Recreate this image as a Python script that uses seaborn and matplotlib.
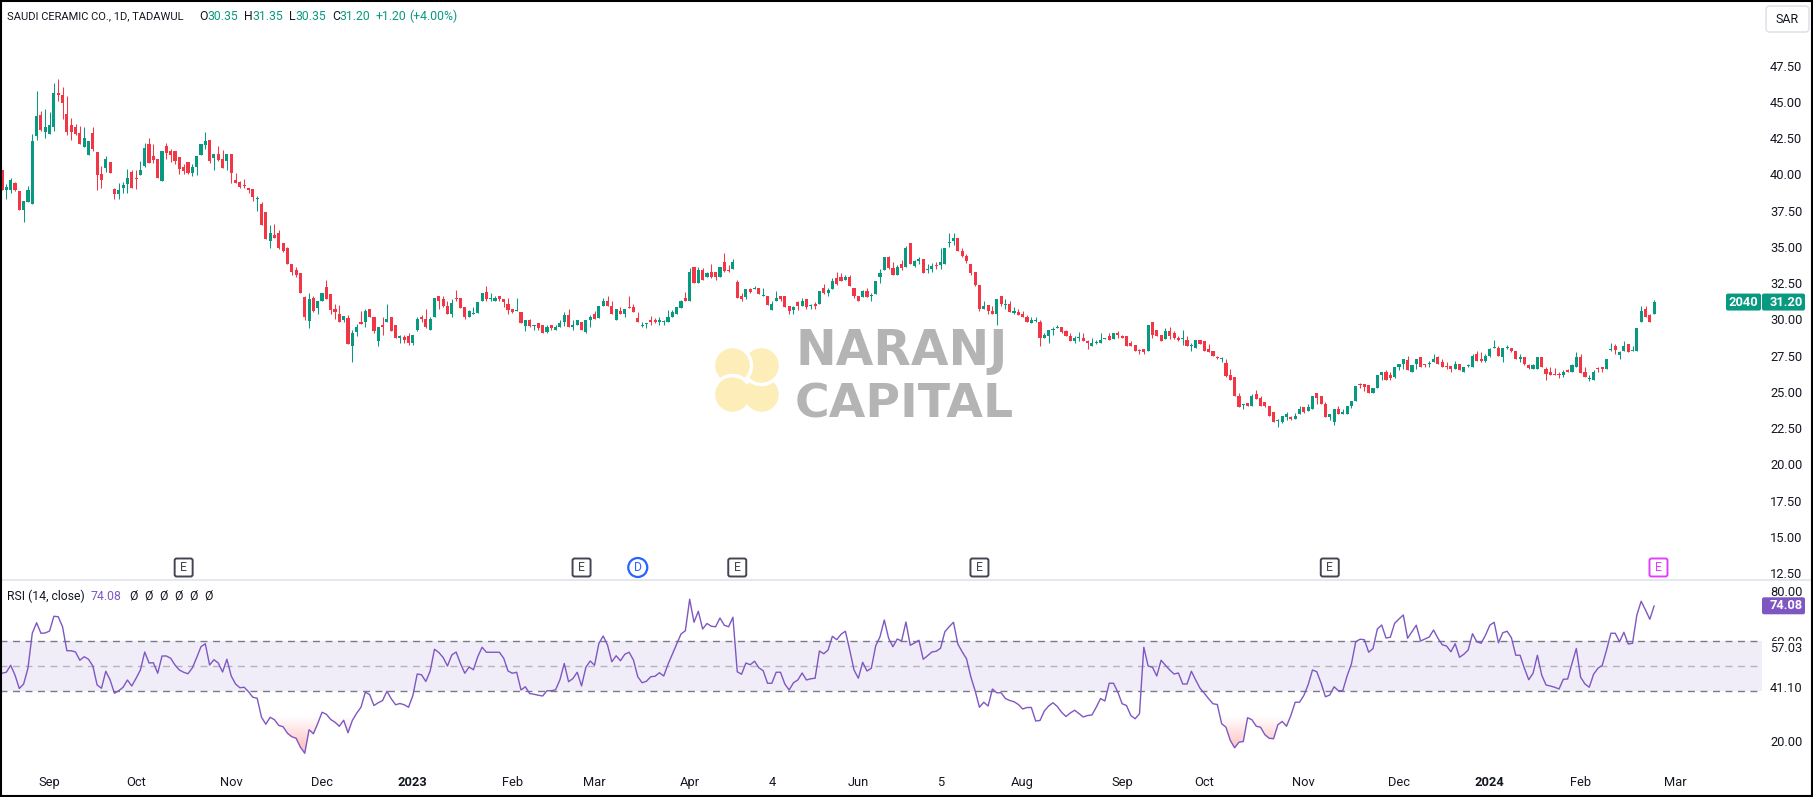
import numpy as np
import pandas as pd
import matplotlib
matplotlib.use('Agg')
import matplotlib.pyplot as plt
from matplotlib.patches import Circle, FancyBboxPatch, PathPatch, Rectangle
from matplotlib.path import Path
from matplotlib.transforms import IdentityTransform
import seaborn as sns

# Daily candles
opens = [
    40.29,38.91,38.91,39.4,38.85,37.53,38.08,37.97,42.65,44.1,
    42.9,42.8,43.25,45.6,45.45,44.15,43.4,43.25,42.85,41.9,
    41.35,42.85,41.55,40.05,40.45,40.85,39.0,38.65,39.05,39.35,
    40.2,39.75,39.95,40.55,42.1,41.25,41.05,39.55,41.95,41.65,
    41.65,41.2,40.5,40.85,40.1,40.5,41.35,42.0,42.35,41.15,
    41.4,41.05,40.9,41.4,39.6,39.45,39.25,39.05,39.0,38.3,
    37.95,37.4,35.4,35.8,35.95,35.25,34.9,33.8,33.4,33.2,
    31.55,29.9,31.45,30.8,31.3,32.25,31.75,30.7,30.4,29.95,
    30.1,28.15,29.15,29.85,29.85,30.75,30.15,28.5,29.65,29.85,
    30.15,29.6,28.7,28.8,28.85,28.4,29.25,30.15,30.05,29.3,
    30.2,31.6,31.4,30.95,30.4,31.45,
    31.45,30.85,30.15,30.35,30.45,31.3,31.9,31.4,31.25,31.6,
    31.4,31.1,30.7,30.6,30.5,29.55,29.95,29.55,29.75,29.6,
    29.1,29.6,29.3,29.5,29.8,30.3,29.45,29.6,29.8,29.1,
    29.95,30.35,30.1,30.95,31.3,30.95,29.95,30.55,30.35,30.85,
    30.85,30.1,29.55,29.7,29.95,29.95,29.85,29.85,29.8,30.15,
    30.4,30.8,31.45,31.3,33.6,32.5,33.4,32.9,33.25,33.25,
    32.9,33.95,33.4,33.45,32.55,31.6,31.55,32.1,32.1,32.15,
    31.65,31.6,30.65,31.25,31.6,31.6,30.9,30.65,31.2,30.95,
    31.4,30.95,31.1,31.05,32.2,31.8,32.1,32.85,32.9,32.7,
    32.9,32.2,31.65,31.55,31.95,31.65,31.75,32.95,33.4,34.3,
    33.55,33.05,33.8,33.6,
    35.25,33.7,34.05,34.2,33.4,33.5,33.75,33.75,33.85,35.3,
    35.4,35.6,34.75,34.4,33.8,33.25,32.4,30.7,31.0,30.6,
    30.4,31.6,31.0,31.05,30.45,30.5,30.4,30.15,29.75,29.9,
    29.85,28.75,28.85,29.3,29.4,29.45,29.2,28.85,28.5,28.7,
    28.75,28.5,28.2,28.35,28.4,28.65,28.85,28.65,29.1,28.85,
    28.85,28.35,28.25,27.85,27.95,27.85,29.85,29.25,28.95,28.65,
    29.2,29.05,28.75,28.65,28.55,28.15,28.05,28.6,28.5,27.95,
    27.8,27.4,27.3,27.0,26.2,26.0,
    24.75,24.1,24.25,24.05,24.85,24.55,24.3,24.0,23.6,23.0,
    22.95,23.25,23.3,23.15,23.45,23.95,23.7,23.85,24.9,24.75,
    24.15,23.25,22.9,23.8,23.45,23.5,24.05,24.4,25.55,25.55,
    25.45,24.95,25.3,26.15,26.35,26.15,26.0,26.7,26.9,27.2,
    26.4,26.95,27.4,26.9,26.9,27.05,27.4,27.05,26.8,26.8,
    26.6,26.9,26.4,26.8,26.75,27.65,27.25,27.1,27.5,28.0,
    28.05,27.4,28.0,28.05,27.85,27.3,27.4,26.85,26.6,26.6,
    27.4,26.55,26.35,26.25,26.2,26.2,26.5,26.35,26.75,27.4,
    26.35,25.9,25.85,26.6,26.75,26.6,27.9,28.15,27.55,27.8,
    28.3,27.8,27.85,29.8,30.7,30.3,30.35,
]
highs = [
    40.29,39.33,39.74,39.5,38.85,38.15,39.2,42.78,45.75,44.35,
    44.5,44.3,46.3,46.6,46.05,45.4,43.9,43.45,43.35,43.25,
    42.3,43.25,41.55,40.55,41.25,40.85,39.05,39.4,39.45,40.35,
    40.3,40.3,40.95,42.15,42.5,42.1,41.05,41.6,42.15,41.75,
    41.65,41.2,40.7,40.85,40.7,41.25,42.1,42.9,42.35,41.4,
    41.95,41.7,41.4,41.4,40.1,39.55,39.7,39.1,39.0,38.5,
    38.1,37.4,36.5,36.6,36.15,35.25,35.0,33.8,33.6,33.2,
    31.65,31.8,31.65,31.3,31.8,32.7,31.75,31.05,31.0,30.25,
    30.3,29.25,29.7,30.6,30.75,30.75,30.2,29.5,30.15,31.05,
    30.15,29.6,28.95,28.95,29.1,28.95,30.2,30.3,30.75,30.15,
    31.45,31.65,31.6,31.3,31.4,32.0,
    31.45,30.85,30.65,30.85,31.2,31.8,32.3,31.8,31.6,31.65,
    31.4,31.45,30.7,31.45,30.5,29.95,30.0,29.65,29.75,29.6,
    29.6,29.6,29.6,29.95,30.5,30.7,29.95,29.95,29.8,29.95,
    30.3,30.55,30.9,31.5,31.6,31.25,30.7,30.85,30.7,31.6,
    31.1,30.5,29.85,29.75,30.25,30.1,30.15,29.95,30.65,30.65,
    30.85,31.35,31.9,33.55,33.6,33.6,33.55,33.25,33.8,33.25,
    33.65,34.55,33.75,34.15,32.75,31.85,32.1,32.15,32.3,32.15,
    32.15,31.6,31.25,31.95,31.6,31.6,30.95,30.9,31.25,31.45,
    31.4,31.05,31.2,31.95,32.45,32.15,32.85,33.25,33.2,33.1,
    33.05,32.2,31.65,32.0,32.15,31.8,32.65,33.45,34.3,34.35,
    33.95,33.75,34.1,35.05,
    35.3,34.1,34.3,34.2,33.8,33.9,33.95,34.95,34.95,35.95,
    35.95,35.6,34.95,34.5,33.8,33.25,32.4,31.3,31.0,30.9,
    31.4,31.6,31.4,31.3,30.85,30.7,30.55,30.3,30.15,30.15,
    29.95,29.1,29.25,29.45,29.65,29.45,29.25,29.1,28.85,29.15,
    29.05,28.55,28.7,28.55,29.05,28.75,29.1,29.05,29.2,28.95,
    28.85,28.5,28.25,27.95,27.95,29.65,29.85,29.25,28.95,29.4,
    29.5,29.2,28.85,29.25,28.85,28.4,28.6,28.6,28.5,28.3,
    27.85,27.5,27.4,27.25,26.6,26.0,
    24.95,24.2,24.25,24.85,25.15,24.75,24.3,24.05,23.65,23.15,
    23.35,23.65,23.35,23.55,24.05,23.95,24.15,24.7,24.9,24.75,
    24.3,23.5,23.8,24.05,23.8,24.05,24.4,25.4,25.65,25.55,
    25.45,25.25,26.15,26.4,26.5,26.4,26.75,26.95,27.25,27.45,
    26.85,27.3,27.4,26.95,27.15,27.6,27.45,27.25,27.05,26.8,
    27.15,26.9,26.75,26.95,27.6,27.8,27.75,27.6,28.05,28.6,
    28.2,28.05,28.25,28.05,27.85,27.6,27.4,26.95,26.9,27.4,
    27.4,26.7,26.7,26.65,26.35,26.5,26.55,26.95,27.75,27.6,
    26.75,26.15,26.5,26.7,26.75,27.3,28.4,28.3,27.85,28.5,
    28.3,28.15,29.4,30.95,30.9,30.35,31.35,
]
lows = [
    38.91,38.29,38.73,38.85,37.53,36.72,38.08,37.97,42.35,43.0,
    42.5,42.8,43.0,45.05,43.8,42.7,42.35,42.7,42.1,41.9,
    41.35,41.6,38.9,39.05,40.15,40.1,38.3,38.3,38.75,38.75,
    39.05,39.0,39.95,40.5,40.8,40.8,39.75,39.55,41.05,40.85,
    40.7,40.05,40.05,40.05,39.9,39.95,41.35,41.75,40.8,40.3,
    40.9,40.45,40.3,39.4,39.4,39.05,39.05,38.7,38.15,37.45,
    36.5,35.55,34.9,35.6,34.85,34.65,33.8,33.1,32.9,31.85,
    29.95,29.4,30.5,30.4,31.25,31.4,30.35,30.0,29.85,29.85,
    28.3,27.05,28.85,29.7,29.45,30.15,29.1,28.15,28.95,29.85,
    29.2,28.7,28.35,28.35,28.25,28.25,29.2,29.8,29.4,29.25,
    30.2,30.75,30.85,30.4,30.15,31.25,
    30.8,30.05,30.15,30.35,30.45,31.25,31.3,31.25,31.25,31.25,
    30.85,30.35,30.45,30.6,29.75,29.2,29.45,29.25,29.25,29.05,
    29.1,29.25,29.3,29.5,29.55,29.5,29.25,29.6,29.25,29.05,
    29.45,30.0,30.1,30.95,30.9,30.35,29.95,30.4,30.2,30.8,
    30.5,29.85,29.45,29.4,29.6,29.75,29.65,29.6,29.8,30.15,
    30.35,30.8,31.25,31.3,32.5,32.5,32.7,32.9,32.85,32.75,
    32.9,33.3,33.3,33.45,31.45,31.25,31.4,31.8,32.1,31.75,
    31.65,31.0,30.65,31.25,31.25,30.85,30.35,30.35,30.65,30.95,
    30.7,30.7,30.75,31.05,31.75,31.6,32.1,32.4,32.65,32.7,
    32.3,31.45,31.25,31.55,31.55,31.25,31.75,32.5,33.4,33.45,
    33.1,33.05,33.4,33.6,
    33.8,33.65,33.8,33.2,33.2,33.25,33.5,33.5,33.85,35.0,
    35.15,34.7,34.3,33.9,33.05,32.3,30.55,30.7,30.4,30.35,
    29.6,30.95,30.75,30.5,30.35,30.3,30.15,29.8,29.75,29.8,
    28.2,28.7,28.4,28.9,29.4,29.05,28.85,28.5,28.35,28.5,
    28.5,27.95,28.2,28.3,28.4,28.65,28.55,28.65,28.75,28.75,
    28.2,28.2,27.8,27.6,27.6,27.85,28.7,28.85,28.5,28.65,
    28.65,28.65,28.5,28.25,28.15,27.85,28.05,28.3,27.85,27.75,
    27.45,27.25,27.1,26.0,25.85,24.75,
    23.95,23.85,24.0,24.05,24.5,24.05,23.95,23.35,22.95,22.6,
    22.85,23.1,23.1,23.15,23.45,23.55,23.7,23.85,24.2,24.15,
    23.25,23.05,22.75,23.5,23.45,23.5,23.9,24.4,25.25,25.05,
    24.95,24.9,25.25,25.8,25.8,25.85,25.95,26.5,26.55,26.5,
    26.35,26.55,26.7,26.75,26.75,27.05,26.95,26.75,26.55,26.4,
    26.55,26.5,26.4,26.7,26.7,27.15,27.1,27.05,27.4,28.0,
    27.5,27.1,27.95,27.75,27.25,27.05,26.85,26.55,26.55,26.6,
    26.7,25.8,26.2,26.15,25.95,26.0,26.35,26.35,26.75,26.3,
    26.05,25.75,25.85,26.35,26.4,26.6,27.8,27.65,27.25,27.8,
    27.75,27.8,27.85,29.8,30.15,29.8,30.35,
]
closes = [
    38.91,39.12,39.6,38.91,37.53,38.15,38.91,42.3,44.05,43.05,
    43.25,43.4,45.6,45.45,44.9,42.9,42.9,42.8,42.1,42.5,
    42.3,41.75,39.95,39.65,41.05,40.1,38.65,38.9,39.25,39.75,
    39.05,39.7,40.3,41.8,40.8,41.0,39.75,41.6,41.45,41.35,
    40.95,40.35,40.25,40.1,40.5,41.25,42.1,42.3,40.9,41.4,
    41.0,40.45,41.4,40.1,39.4,39.15,39.2,38.95,38.45,38.35,
    36.5,35.55,35.95,35.6,34.9,34.7,33.8,33.3,33.05,31.85,
    30.15,31.4,30.55,31.3,31.8,31.4,30.65,30.5,29.85,30.25,
    28.3,29.05,29.5,29.7,30.6,30.2,29.2,29.45,29.5,30.05,
    29.2,28.7,28.85,28.6,28.4,28.95,30.05,30.0,29.45,30.05,
    31.45,31.25,30.9,30.4,31.15,31.4,
    30.8,30.15,30.55,30.4,31.2,31.8,31.4,31.45,31.45,31.4,
    31.2,30.65,30.5,30.65,29.75,29.95,29.55,29.6,29.4,29.05,
    29.45,29.4,29.45,29.75,30.3,29.5,29.65,29.95,29.25,29.95,
    30.2,30.0,30.9,31.3,30.95,30.35,30.7,30.4,30.7,30.8,
    30.5,29.85,29.65,29.7,29.85,29.85,29.95,29.9,30.15,30.5,
    30.85,31.25,31.3,33.25,32.5,33.4,32.7,33.2,32.95,32.95,
    33.65,33.35,33.35,33.95,31.5,31.4,32.1,31.9,32.15,31.75,
    31.7,31.0,31.05,31.45,31.4,30.85,30.55,30.85,30.9,31.25,
    30.85,30.95,30.9,31.95,31.8,32.0,32.65,32.45,32.65,32.9,
    32.3,31.6,31.25,31.95,31.55,31.7,32.65,33.2,34.3,33.55,
    33.1,33.65,33.55,34.95,
    33.8,34.05,34.2,33.2,33.45,33.7,33.7,33.95,34.95,35.35,
    35.65,34.7,34.35,34.0,33.2,32.35,30.7,30.95,30.55,30.35,
    31.4,31.05,31.05,30.5,30.55,30.3,30.15,29.8,29.95,29.95,
    28.75,28.95,29.25,29.35,29.45,29.1,28.85,28.5,28.7,28.75,
    28.5,28.4,28.4,28.4,28.55,28.75,28.55,29.05,28.9,28.75,
    28.2,28.2,27.8,27.8,27.75,29.65,28.9,28.85,28.5,29.2,
    28.85,28.7,28.55,28.65,28.15,28.2,28.6,28.3,27.85,27.75,
    27.5,27.35,27.3,26.1,25.85,24.75,
    23.95,24.1,24.0,24.75,24.5,24.05,24.0,23.35,22.95,23.05,
    23.35,23.45,23.1,23.35,23.8,23.65,23.95,24.7,24.55,24.15,
    23.25,23.45,23.8,23.5,23.6,24.05,24.4,25.4,25.5,25.35,
    24.95,25.25,26.15,26.35,25.85,25.95,26.7,26.95,27.25,26.5,
    26.85,27.25,26.7,26.85,26.95,27.3,26.95,26.75,26.75,26.6,
    26.95,26.5,26.7,26.85,27.45,27.15,27.15,27.5,27.95,28.05,
    27.5,28.0,28.05,27.85,27.3,27.4,26.95,26.65,26.85,27.4,
    26.7,26.25,26.2,26.2,26.15,26.4,26.35,26.85,27.4,26.3,
    26.05,25.95,26.35,26.55,26.6,27.25,27.95,27.9,27.75,28.15,
    27.75,27.85,29.4,30.55,30.2,29.85,31.2,
]

rsi_values = [
    47.1,47.5,50.3,46.4,41,42.8,49.1,63.1,67.3,63.1,
    63.2,64,69.9,69.7,65.7,56.1,56.1,55.6,52.3,53.7,
    52.7,50,42.4,41.1,47.9,44.4,39.1,40.1,41.5,44.4,
    42,45.1,48.4,55.6,51.2,51.3,47.1,54,54,53.1,
    50.4,48.4,47.5,46.9,49.2,53.3,57.7,58.9,50.4,52.5,
    51.2,47.6,52.7,46,42.8,41.3,41.5,39.7,37.5,37.1,
    29.5,26.7,29.5,28.5,26.2,25.7,23.1,21.7,21.1,17.5,
    15.1,24.5,22.9,27,31.5,30.7,28.6,27.5,25.9,28.3,
    23.3,28.2,31.1,33.5,39.5,38.6,34.2,35.3,36.2,39.9,
    36.9,34.5,35,34.5,33.5,38.2,46.8,46.5,43.8,48,
    56.7,55.4,53.4,50,54.4,55.6,51,47.1,49.6,48.5,
    53.7,57.5,55.5,55.5,55.5,55.5,53.1,48,47.1,47.5,
    40.4,41.7,39,38.7,38.3,38,40.1,40.1,40.5,44.5,
    51,43.7,45,47.5,42,49.5,52,50.3,59,
    62,58.4,51.7,54.1,52.1,54.7,55.5,52.4,45.7,43.3,
    43.9,45.7,45.9,47.3,46,50.7,54.8,58.8,62.8,64.1,
    76.7,67.5,71.9,64.8,67,65.9,65.7,69.2,66.3,65.7,
    69.5,47.7,46.7,51.2,50.5,51.9,49.3,48.1,43.1,43.1,
    47.5,47.5,42.8,40.4,43.3,44.4,47.2,44.4,44.9,45.1,
    56,54.9,56.4,61.9,60.5,62.7,63.9,56.4,48.4,45.1,
    51.5,48,49.1,58,61.7,68.4,61.1,57.7,60.8,60,
    67.6,58.3,59.2,60.3,52.7,54.1,55.6,55.9,57.1,63.7,
    65.7,67.5,58.8,55.7,52.9,45.7,40.1,33.5,35.5,34,
    40.8,39.3,39.3,37,36.2,35.7,34.6,32.8,33.4,33.4,
    28,28.2,32,34,35.3,33.8,31.5,29.8,31.2,32.3,
    31,29.6,30.2,30.4,33.5,37,36,43.1,43.1,39.5,
    34.9,34.2,30.2,28.9,30.9,57.5,50,49.5,46,52.3,
    50.3,48.4,46.8,47.2,42.8,42.8,47.9,44.4,41.1,39.1,
    36.9,34.9,34.6,26.9,25.5,20.2,17.3,19.5,19.8,29.3,
    28.5,25.9,25.5,22.5,21.1,20.9,26.5,27.8,25.9,30.2,
    35.5,35.5,38.2,42.5,48.4,47.7,43.1,37.7,38.4,41.7,
    40.1,40.1,46,50.8,59.7,60.7,60.5,55.5,57,64.8,
    66.4,61.2,61.5,67.1,68.8,70.4,61.1,63.7,66.3,60,
    60.8,61.6,64.4,61.1,58.5,58,55.7,58.9,53.5,54.7,
    56.4,62.9,59.7,59.1,62.3,66.3,67.5,59.3,63.3,63.9,
    61.3,54.3,54.3,49.1,44.5,47.1,54.3,46.4,42.4,42,
    41.5,40.8,44.7,44.8,51,57,45.5,42.8,41.5,46.7,
    49.1,50.3,56.4,63.1,63.1,59.7,63.5,58.8,59.1,70.4,
    75.9,72.4,68.7,74.08,
]

# Axis ticks and labels
month_labels = ['Sep', 'Oct', 'Nov', 'Dec', '2023', 'Feb', 'Mar', 'Apr', '4', 'Jun', '5',
                'Aug', 'Sep', 'Oct', 'Nov', 'Dec', '2024', 'Feb', 'Mar']
month_bars = [11, 31, 53, 74, 95, 118, 137, 159, 178, 198, 217,
              236, 259, 278, 301, 323, 344, 365, 387]
price_ticks = [12.5, 15, 17.5, 20, 22.5, 25, 27.5, 30, 32.5, 35, 37.5, 40, 42.5, 45, 47.5]
rsi_ticks = [20, 60, 80]
rsi_extra_levels = [57.03, 41.10]
earnings_bars = [42, 134, 170, 226, 307]
next_earnings_bar = 383
dividend_bar = 147

GREEN = '#089981'
RED = '#F23645'
PURPLE = '#7E57C2'
TEXT = '#131722'
LOGO = '#FDEDB8'
W, H = 1813, 797
PANE_RIGHT = 1762
PANE_SPLIT = 580
RSI_BOTTOM = 765
BAR_PX = 4.325
FIRST_BAR_PX = 2.0
TICK_SIZE = 9.3

sns.set_theme(style='white')
plt.rcParams['font.family'] = ['Roboto', 'DejaVu Sans']
plt.rcParams['font.size'] = 9


def bar_to_px(i):
    return FIRST_BAR_PX + i * BAR_PX


def box(x0, y0, x1, y1, fc, ec='none', lw=0, r=2, z=10):
    """Rounded box in image pixels, y measured from the top."""
    p = FancyBboxPatch((x0, H - y1), x1 - x0, y1 - y0, boxstyle=f'round,pad=0,rounding_size={r}',
                       fc=fc, ec=ec, lw=lw, transform=IdentityTransform(), zorder=z)
    fig.add_artist(p)


def label(x, y, s, color=TEXT, size=TICK_SIZE, ha='left', weight='normal', z=11):
    fig.text(x, H - y, s, color=color, fontsize=size, ha=ha, va='center', fontweight=weight,
             transform=IdentityTransform(), zorder=z)


fig = plt.figure(figsize=(W / 100, H / 100), dpi=100, facecolor='white')
ax_price = fig.add_axes([0, 1 - PANE_SPLIT / H, PANE_RIGHT / W, PANE_SPLIT / H])
ax_rsi = fig.add_axes([0, 1 - RSI_BOTTOM / H, PANE_RIGHT / W, (RSI_BOTTOM - PANE_SPLIT) / H])

# Candles
candles = pd.DataFrame({'open': opens, 'high': highs, 'low': lows, 'close': closes})
candles['bar'] = np.arange(len(candles))
candles['color'] = np.where(candles['close'] >= candles['open'], GREEN, RED)
body_low = candles[['open', 'close']].min(axis=1)
body_height = np.maximum((candles['close'] - candles['open']).abs(), 0.07)
ax_price.vlines(candles['bar'], candles['low'], candles['high'], colors=candles['color'], linewidth=0.75, zorder=3)
ax_price.bar(candles['bar'], body_height, bottom=body_low, width=0.72, color=candles['color'], linewidth=0, zorder=4)

xlim = (-FIRST_BAR_PX / BAR_PX, (PANE_RIGHT - FIRST_BAR_PX) / BAR_PX)
ax_price.set_xlim(xlim)
ax_price.set_ylim(47.5 - (PANE_SPLIT - 65.7) / 14.5, 47.5 + 65.7 / 14.5)
ax_price.set_xticks([])
ax_price.yaxis.tick_right()
ax_price.set_yticks(price_ticks)
ax_price.set_yticklabels([f'{t:.2f}' for t in price_ticks], color=TEXT, fontsize=TICK_SIZE)
ax_price.tick_params(axis='y', length=0, pad=5.8)

# RSI pane
rsi = pd.DataFrame({'bar': np.arange(len(rsi_values)), 'rsi': rsi_values})
ax_rsi.axhspan(40, 60, color=PURPLE, alpha=0.1, linewidth=0, zorder=1)
ax_rsi.axhline(60, color='#787B86', linewidth=1, dashes=(5, 4), zorder=2)
ax_rsi.axhline(50, color='#787B86', alpha=0.5, linewidth=1, dashes=(5, 4), zorder=2)
ax_rsi.axhline(40, color='#787B86', linewidth=1, dashes=(5, 4), zorder=2)
sns.lineplot(data=rsi, x='bar', y='rsi', color=PURPLE, linewidth=1.0, ax=ax_rsi, zorder=5, errorbar=None)

# Oversold gradient, fading out towards 30
low_fill = ax_rsi.fill_between(rsi['bar'], rsi['rsi'], 30, where=rsi['rsi'] < 30, interpolate=True,
                               facecolor='none', linewidth=0)
grad = np.zeros((64, 2, 4))
grad[..., 0] = 1.0
grad[..., 1] = 0.32
grad[..., 2] = 0.32
grad[..., 3] = np.linspace(0.0, 0.42, 64)[:, None]
im = ax_rsi.imshow(grad, extent=[xlim[0], xlim[1], 15, 30], aspect='auto', zorder=3, origin='upper')
low_path = Path.make_compound_path(*low_fill.get_paths())
im.set_clip_path(PathPatch(low_path, transform=ax_rsi.transData))

ax_rsi.set_xlim(xlim)
ax_rsi.set_ylim(80 - (RSI_BOTTOM - 591) / 2.5, 80 + (591 - PANE_SPLIT) / 2.5)
ax_rsi.set_xlabel('')
ax_rsi.set_ylabel('')
ax_rsi.set_xticks(month_bars)
ax_rsi.set_xticklabels(month_labels, color=TEXT, fontsize=TICK_SIZE)
for tick in ax_rsi.get_xticklabels():
    if tick.get_text() in ('2023', '2024'):
        tick.set_fontweight('bold')
ax_rsi.tick_params(axis='x', length=0, pad=8)
ax_rsi.yaxis.tick_right()
ax_rsi.set_yticks(rsi_ticks)
ax_rsi.set_yticklabels([f'{t:.2f}' for t in rsi_ticks], color=TEXT, fontsize=TICK_SIZE)
ax_rsi.tick_params(axis='y', length=0, pad=5.8)

for ax in (ax_price, ax_rsi):
    for side in ax.spines:
        ax.spines[side].set_visible(False)
    ax.patch.set_alpha(0)

# Level labels and value tags on the right scale
rsi_y = lambda v: 591 + (80 - v) * 2.5
price_y = lambda v: 65.7 + (47.5 - v) * 14.5
for lev in rsi_extra_levels:
    box(1766, rsi_y(lev) - 7.5, 1806, rsi_y(lev) + 7.5, 'white', r=0, z=9)
    label(1770, rsi_y(lev), f'{lev:.2f}')
tag_y = rsi_y(rsi_values[-1])
box(1762, tag_y - 8.5, 1805, tag_y + 8.5, PURPLE, r=2)
label(1770, tag_y, f'{rsi_values[-1]:.2f}', color='white', weight='bold')
tag_y = price_y(closes[-1])
box(1726, tag_y - 8.5, 1761, tag_y + 8.5, GREEN, r=2)
box(1762, tag_y - 8.5, 1805, tag_y + 8.5, GREEN, r=2)
label(1743.5, tag_y, '2040', color='white', ha='center', weight='bold')
label(1770, tag_y, f'{closes[-1]:.2f}', color='white', weight='bold')
box(1766, 6, 1809, 32, 'white', ec='#E0E3EB', lw=1.2, r=4)
label(1787.5, 19.7, 'SAR', ha='center', size=9)

# Legend rows
label(7, 16.7, 'SAUDI CERAMIC CO., 1D, TADAWUL', size=8.0)
legend_row = [(199.3, 'O', TEXT), (207.7, '30.35', GREEN), (244.3, 'H', TEXT), (252.3, '31.35', GREEN),
              (289.3, 'L', TEXT), (295, '30.35', GREEN), (332, 'C', TEXT), (339.3, '31.20', GREEN),
              (376, '+1.20', GREEN), (409.3, '(+4.00%)', GREEN)]
for x, s, c in legend_row:
    label(x, 16.7, s, color=c, size=8.8)
label(7, 596, 'RSI (14, close)', size=8.8)
label(91, 596, '74.08', color=PURPLE, size=8.8)
for k in range(6):
    label(129 + 15 * k, 596, 'Ø', size=8.8)

# Event markers
for b in earnings_bars:
    x = bar_to_px(b)
    box(x - 9, 558.5, x + 9, 576.5, 'white', ec='#434651', lw=1.4, r=2)
    label(x, 567.5, 'E', color='#434651', ha='center', size=8.8)
x = bar_to_px(next_earnings_bar)
box(x - 9, 558.5, x + 9, 576.5, 'white', ec='#E040FB', lw=1.4, r=2)
label(x, 567.5, 'E', color='#E040FB', ha='center', size=8.8)
x = bar_to_px(dividend_bar)
fig.add_artist(Circle((x, H - 567.5), 9.5, fc='white', ec='#2962FF', lw=1.6, transform=IdentityTransform(), zorder=10))
label(x, 567.5, 'D', color='#2962FF', ha='center', size=8.8)

# Watermark logo: four overlapping petals, each one covering the next around the wheel
LOGO_X, LOGO_Y = 747, 380
petals = [(-14.5, 14.5), (14.5, 14.5), (14.5, -14.5), (-14.5, -14.5)]  # BL, BR, TR, TL
for dx, dy in petals:
    ax_price.add_patch(Circle((LOGO_X + dx, H - (LOGO_Y + dy)), 19, fc=LOGO, ec='white', lw=2.5,
                              transform=IdentityTransform(), zorder=1))
again = Circle((LOGO_X + petals[0][0], H - (LOGO_Y + petals[0][1])), 19, fc=LOGO, ec='white', lw=2.5,
               transform=IdentityTransform(), zorder=1.1)
ax_price.add_patch(again)
again.set_clip_path(Rectangle((LOGO_X - 40, H - LOGO_Y - 40), 40, 80, transform=IdentityTransform()))

ax_price.text(795, H - 351, 'NARANJ', color='#B4B4B4', fontsize=35, fontweight='bold', family='DejaVu Sans',
              va='center', transform=IdentityTransform(), zorder=1)
ax_price.text(795, H - 405, 'CAPITAL', color='#B4B4B4', fontsize=34, fontweight='bold', family='DejaVu Sans',
              va='center', transform=IdentityTransform(), zorder=1)

# Pane separator and outer frame
fig.add_artist(plt.Line2D([0, PANE_RIGHT + 51], [H - PANE_SPLIT, H - PANE_SPLIT], color='#E0E3EB', linewidth=1.2,
                          transform=IdentityTransform(), zorder=8))
fig.add_artist(Rectangle((1, 1), W - 2, H - 2, fc='none', ec='black', lw=1.5, transform=IdentityTransform(), zorder=20))

fig.savefig('out.png', dpi=100)
